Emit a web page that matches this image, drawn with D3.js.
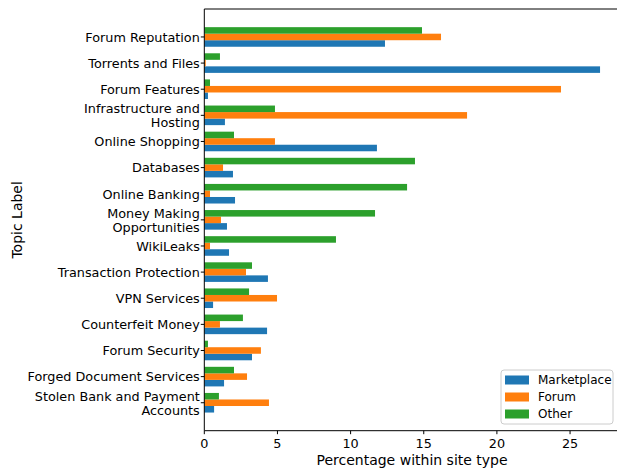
<!DOCTYPE html>
<html lang="en">
<head>
<meta charset="utf-8">
<script src="https://d3js.org/d3.v7.min.js"></script>
<style>
  body { margin: 0; background: #fff; }
  svg text { font-family: "DejaVu Sans", sans-serif; fill: #000; }
</style>
</head>
<body>
<script>
// topics, top to bottom
var topics = ["Forum Reputation", "Torrents and Files", "Forum Features",
  "Infrastructure and\nHosting", "Online Shopping", "Databases", "Online Banking",
  "Money Making\nOpportunities", "WikiLeaks", "Transaction Protection", "VPN Services",
  "Counterfeit Money", "Forum Security", "Forged Document Services",
  "Stolen Bank and Payment\nAccounts"];

var siteTypes = ["Marketplace", "Forum", "Other"];

var marketplace = [12.35, 27.05, 0.25, 1.41, 11.8, 1.96, 2.1, 1.55, 1.69, 4.35, 0.6, 4.29, 3.26, 1.35, 0.67];
var forum = [16.18, 0.1, 24.38, 17.96, 4.83, 1.28, 0.39, 1.14, 0.39, 2.85, 4.97, 1.07, 3.87, 2.92, 4.42];
var other = [14.88, 1.07, 0.39, 4.83, 2.03, 14.4, 13.86, 11.67, 9.0, 3.26, 3.06, 2.64, 0.25, 2.03, 1.0];

var xTicks = [0, 5, 10, 15, 20, 25];
var colors = ["#1f77b4", "#ff7f0e", "#2ca02c"];

var W = 617, H = 468;
var mLeft = 204.3, mTop = 9, mBottom = 430.7;
var xMax = 28.4;
var barH = 0.25;

var svg = d3.select("body").append("svg")
  .attr("width", W).attr("height", H);

var x = d3.scaleLinear().domain([0, xMax]).range([mLeft, mLeft + xMax * 14.63]);
var y = d3.scaleLinear().domain([-1.07, topics.length - 1 + 1.07]).range([mTop, mBottom]);

var series = [marketplace, forum, other];
// offsets: Other on top, Forum middle, Marketplace bottom
var offsets = [barH, 0, -barH];

series.forEach(function(vals, s) {
  svg.append("g").selectAll("rect")
    .data(vals)
    .enter().append("rect")
    .attr("x", x(0))
    .attr("y", function(d, i) { return y(i + offsets[s] - barH / 2); })
    .attr("width", function(d) { return x(d) - x(0); })
    .attr("height", y(barH) - y(0))
    .attr("fill", colors[s]);
});

// spines
var mRight = x(xMax);
function spine(x1, y1, x2, y2) {
  svg.append("line").attr("x1", x1).attr("x2", x2).attr("y1", y1).attr("y2", y2)
    .attr("stroke", "#000").attr("stroke-width", 1);
}
spine(mLeft, mTop, mLeft, mBottom);
spine(mLeft, mBottom, mRight, mBottom);
spine(mLeft, mTop, mRight, mTop);
spine(mRight, mTop, mRight, mBottom);

// x axis
var xAxis = svg.append("g");
xTicks.forEach(function(t) {
  xAxis.append("line").attr("x1", x(t)).attr("x2", x(t))
    .attr("y1", mBottom).attr("y2", mBottom + 3.5).attr("stroke", "#000");
  xAxis.append("text").attr("x", x(t)).attr("y", mBottom + 17)
    .attr("text-anchor", "middle").attr("font-size", 12.8).text(t);
});

// y axis
var yAxis = svg.append("g");
topics.forEach(function(t, i) {
  var cy = y(i);
  yAxis.append("line").attr("x1", mLeft - 3.5).attr("x2", mLeft)
    .attr("y1", cy).attr("y2", cy).attr("stroke", "#000");
  var lines = t.split("\n");
  var lh = 14;
  var txt = yAxis.append("text").attr("text-anchor", "end").attr("font-size", 12.8);
  lines.forEach(function(l, k) {
    txt.append("tspan").attr("x", mLeft - 4.5)
      .attr("y", cy + 4.8 + (k - (lines.length - 1) / 2) * lh)
      .text(l);
  });
});

// axis titles
svg.append("text").attr("x", (mLeft + mRight) / 2).attr("y", 465)
  .attr("text-anchor", "middle").attr("font-size", 14)
  .text("Percentage within site type");
svg.append("text").attr("transform", "translate(22," + ((mTop + mBottom) / 2) + ") rotate(-90)")
  .attr("text-anchor", "middle").attr("font-size", 14)
  .text("Topic Label");

// legend
var lg = svg.append("g");
lg.append("rect").attr("x", 501).attr("y", 370).attr("width", 112).attr("height", 54)
  .attr("rx", 3).attr("fill", "#fff").attr("fill-opacity", 0.8)
  .attr("stroke", "#ccc").attr("stroke-width", 1);
siteTypes.forEach(function(s, i) {
  var cy = 380 + i * 17;
  lg.append("rect").attr("x", 505).attr("y", cy - 4.5).attr("width", 24).attr("height", 9)
    .attr("fill", colors[i]);
  lg.append("text").attr("x", 538).attr("y", cy + 4.2).attr("font-size", 12).text(s);
});
</script>
</body>
</html>
